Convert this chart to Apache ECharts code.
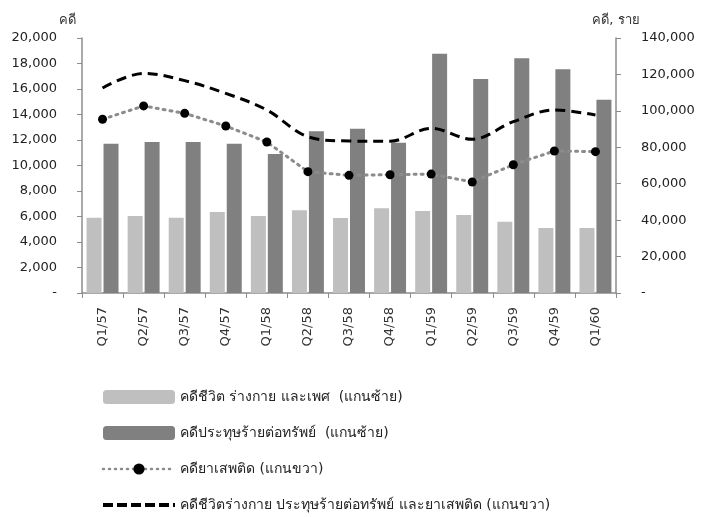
<!DOCTYPE html>
<html>
<head>
<meta charset="utf-8">
<script src="https://cdn.jsdelivr.net/npm/echarts@6/dist/echarts.min.js"></script>
<style>
  html, body { margin: 0; padding: 0; background: #fff; }
  #chart { width: 701px; height: 517px; }
</style>
</head>
<body>
<div id="chart"></div>
<script>
// quarters (Thai fiscal years)
const quarters = ["Q1/57", "Q2/57", "Q3/57", "Q4/57", "Q1/58", "Q2/58", "Q3/58", "Q4/58", "Q1/59", "Q2/59", "Q3/59", "Q4/59", "Q1/60"];

// left axis (คดี)
const lifeBodySex = [5900, 6040, 5900, 6350, 6040, 6500, 5880, 6650, 6430, 6120, 5590, 5100, 5100];
const property = [11700, 11840, 11840, 11700, 10900, 12680, 12890, 11790, 18770, 16780, 18410, 17540, 15160];

// right axis (คดี, ราย)
const drugs = [95400, 102700, 98650, 91700, 82900, 66600, 64600, 64950, 65300, 60950, 70440, 77960, 77600];
const total = [112550, 120600, 116600, 109600, 100500, 85800, 83450, 83300, 90400, 84400, 94050, 100500, 97700];

const fontFamily = "DejaVu Sans, Noto Sans, sans-serif";

const fmt = (v) => (v === 0 ? "-" : v.toLocaleString("en-US"));

const chart = echarts.init(document.getElementById("chart"));

const option = {
  backgroundColor: "#ffffff",
  animation: false,
  textStyle: { fontFamily: fontFamily },
  grid: { left: 82, right: 85, top: 38, bottom: 224 },
  legend: {
    orient: "vertical",
    left: 101,
    top: 390,
    padding: 0,
    height: 127,
    itemWidth: 72,
    itemHeight: 14,
    itemGap: 22,
    textStyle: { fontSize: 14, lineHeight: 14, color: "#222", fontFamily: fontFamily },
    data: [
      { name: "คดีชีวิต ร่างกาย และเพศ  (แกนซ้าย)" },
      { name: "คดีประทุษร้ายต่อทรัพย์  (แกนซ้าย)" },
      { name: "คดียาเสพติด (แกนขวา)", lineStyle: { width: 2.5, type: [1, 5] } },
      {
        name: "คดีชีวิตร่างกาย ประทุษร้ายต่อทรัพย์ และยาเสพติด (แกนขวา)",
        itemStyle: { color: "transparent", borderWidth: 0 },
        lineStyle: { width: 4, type: [10, 4] },
      },
    ],
  },
  xAxis: {
    type: "category",
    data: quarters,
    axisLine: { lineStyle: { color: "#8c8c8c", width: 1.5 } },
    axisTick: { show: true, length: 5, lineStyle: { color: "#8c8c8c" } },
    axisLabel: {
      rotate: 90,
      interval: 0,
      margin: 14,
      fontSize: 13,
      color: "#333",
    },
  },
  yAxis: [
    {
      type: "value",
      min: 0,
      max: 20000,
      interval: 2000,
      name: "คดี",
      nameGap: 11,
      nameTextStyle: { fontSize: 13, color: "#333", align: "right", padding: [0, 6, 0, 0] },
      axisLine: { show: true, lineStyle: { color: "#8c8c8c", width: 1.5 } },
      axisTick: { show: true, inside: false, length: 5, lineStyle: { color: "#8c8c8c" } },
      splitLine: { show: false },
      axisLabel: { fontSize: 13, color: "#222", margin: 25, formatter: fmt },
    },
    {
      type: "value",
      min: 0,
      max: 140000,
      interval: 20000,
      name: "คดี, ราย",
      nameGap: 11,
      nameTextStyle: { fontSize: 13, color: "#333" },
      axisLine: { show: true, lineStyle: { color: "#8c8c8c", width: 1.5 } },
      axisTick: { show: true, length: 5, lineStyle: { color: "#8c8c8c" } },
      splitLine: { show: false },
      axisLabel: { fontSize: 13, color: "#222", margin: 25, formatter: fmt },
    },
  ],
  series: [
    {
      name: "คดีชีวิต ร่างกาย และเพศ  (แกนซ้าย)",
      type: "bar",
      data: lifeBodySex,
      barWidth: 15,
      barGap: "13%",
      itemStyle: { color: "#bfbfbf" },
    },
    {
      name: "คดีประทุษร้ายต่อทรัพย์  (แกนซ้าย)",
      type: "bar",
      data: property,
      barWidth: 15,
      barGap: "13%",
      itemStyle: { color: "#808080" },
    },
    {
      name: "คดียาเสพติด (แกนขวา)",
      type: "line",
      yAxisIndex: 1,
      data: drugs,
      symbol: "circle",
      symbolSize: 9,
      itemStyle: { color: "#000" },
      lineStyle: { color: "#8c8c8c", width: 3, type: [2, 5], cap: "round" },
      z: 3,
    },
    {
      name: "คดีชีวิตร่างกาย ประทุษร้ายต่อทรัพย์ และยาเสพติด (แกนขวา)",
      type: "line",
      yAxisIndex: 1,
      data: total,
      smooth: 0.35,
      symbol: "none",
      itemStyle: { color: "#000" },
      lineStyle: { color: "#000", width: 3, type: [10, 6] },
      z: 4,
    },
  ],
};

chart.setOption(option);
</script>
</body>
</html>
